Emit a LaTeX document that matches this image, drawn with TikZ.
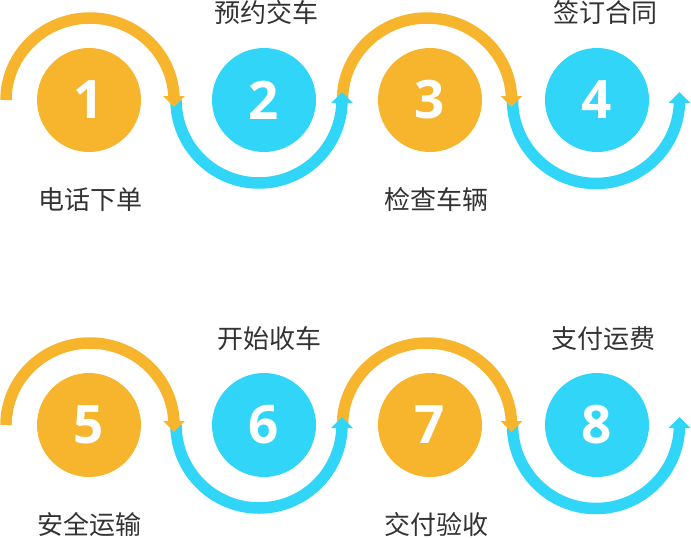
\documentclass[tikz,border=0pt]{standalone}
\usepackage{fontspec}
\setmainfont{Open Sans}
\newfontfamily\cjk{Noto Sans CJK SC}
\usetikzlibrary{arrows.meta}
\definecolor{stepor}{HTML}{F7B52E}
\definecolor{stepbl}{HTML}{30D5F7}
\definecolor{txtgray}{HTML}{333333}
\begin{document}
\begin{tikzpicture}[x=1pt,y=-1pt,
  stepcircle/.style={circle, minimum size=104pt, inner sep=0pt, text=white,
    font=\bfseries\fontsize{53}{53}\selectfont},
  orcircle/.style={stepcircle, fill=stepor},
  blcircle/.style={stepcircle, fill=stepbl},
  lbl/.style={inner sep=0pt, text=txtgray, font=\cjk\fontsize{26}{26}\selectfont},
  arcline/.style={line width=11.5pt, -{Triangle[width=21pt,length=11pt]}},
  orarc/.style={arcline, draw=stepor},
  blarc/.style={arcline, draw=stepbl}]
\useasboundingbox (0,0) rectangle (691,538);
\foreach \dy/\k in {0/a,325/b}{
  % arc start points
  \coordinate (\k o1) at (6,100+\dy);
  \coordinate (\k b1) at (176,100+\dy);
  \coordinate (\k o2) at (342.5,100+\dy);
  \coordinate (\k b2) at (512.5,100+\dy);
  \draw[blarc] (\k b2) arc[start angle=180, end angle=0, radius=83.5] -- ++(0,-8);
  \draw[orarc] (\k o2) arc[start angle=180, end angle=360, x radius=84.5, y radius=82] -- ++(0,7);
  \draw[blarc] (\k b1) arc[start angle=180, end angle=0, radius=83] -- ++(0,-8);
  \draw[orarc] (\k o1) arc[start angle=180, end angle=360, x radius=84, y radius=82] -- ++(0,7);
}
\node[orcircle] (n1) at (89,100) {1};
\node[blcircle] (n2) at (264,100) {2};
\node[orcircle] (n3) at (430,100) {3};
\node[blcircle] (n4) at (597,100) {4};
\node[orcircle] (n5) at (89,425) {5};
\node[blcircle] (n6) at (264,425) {6};
\node[orcircle] (n7) at (430,425) {7};
\node[blcircle] (n8) at (597,425) {8};
\node[lbl] (t1) at (90,200) {电话下单};
\node[lbl] (t2) at (266,13) {预约交车};
\node[lbl] (t3) at (436,200) {检查车辆};
\node[lbl] (t4) at (605,13) {签订合同};
\node[lbl] (t5) at (89,525) {安全运输};
\node[lbl] (t6) at (269,339) {开始收车};
\node[lbl] (t7) at (436,525) {交付验收};
\node[lbl] (t8) at (603,339) {支付运费};
\end{tikzpicture}
\end{document}
